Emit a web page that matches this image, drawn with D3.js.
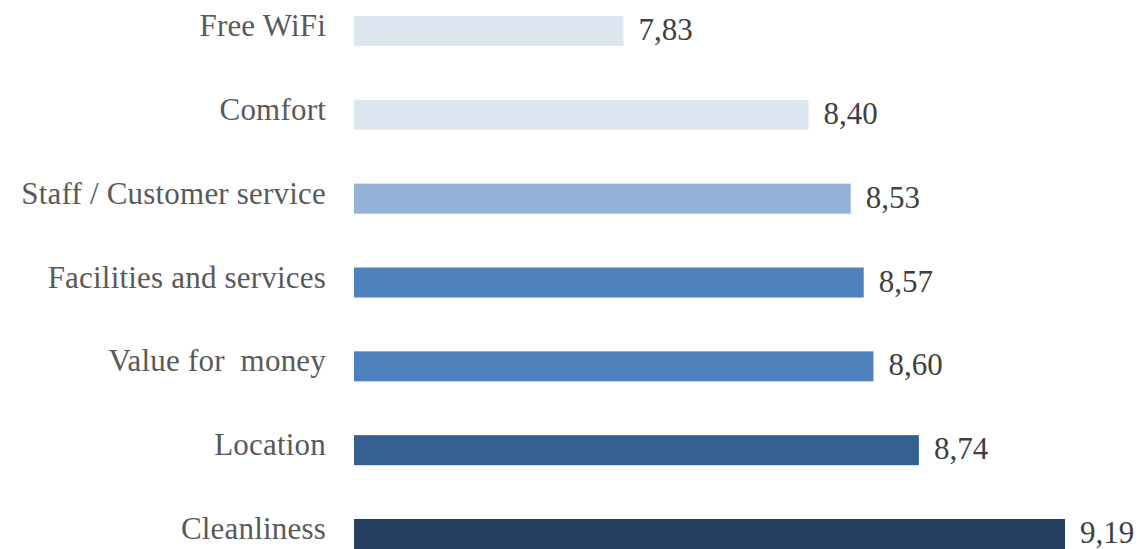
<!DOCTYPE html>
<html>
<head>
<meta charset="utf-8">
<script src="https://cdn.jsdelivr.net/npm/d3@7"></script>
<style>
  html, body { margin: 0; padding: 0; background: #ffffff; }
  svg { display: block; }
  .cat { font-family: "Liberation Serif", "DejaVu Serif", serif; font-size: 31px; letter-spacing: 0.2px; fill: #595959; }
  .val { font-family: "Liberation Serif", "DejaVu Serif", serif; font-size: 31px; fill: #404040; }
</style>
</head>
<body>
<svg id="chart" width="1140" height="549"></svg>
<script>
// Guest review scores by category (top to bottom)
const categories = [
  "Free WiFi",
  "Comfort",
  "Staff / Customer service",
  "Facilities and services",
  "Value for  money",
  "Location",
  "Cleanliness"
];
const scores = [7.83, 8.40, 8.53, 8.57, 8.60, 8.74, 9.19];
const barColors = ["#dce6f1", "#dce6f1", "#95b3d7", "#4f81bd", "#4f81bd", "#376092", "#243f60"];

const width = 1140, height = 549;
const svg = d3.select("#chart");

// Value axis starts at 7, so bar lengths show the difference above 7
const x = d3.scaleLinear().domain([7, d3.max(scores)]).range([354, 1065]);
const y = d3.scaleBand().domain(categories).range([16, 549]).paddingInner(0.642).paddingOuter(0);

const fmt = d3.formatLocale({ decimal: ",", thousands: ".", grouping: [3], currency: ["", " €"] }).format(".2f");

const rows = categories.map((c, i) => ({ cat: c, v: scores[i], color: barColors[i] }));

svg.selectAll("rect.bar")
  .data(rows)
  .join("rect")
  .attr("class", "bar")
  .attr("x", x(7))
  .attr("y", d => y(d.cat))
  .attr("width", d => x(d.v) - x(7))
  .attr("height", y.bandwidth())
  .attr("fill", d => d.color);

// Category names, right-aligned left of the bars
svg.selectAll("text.cat")
  .data(rows)
  .join("text")
  .attr("class", "cat")
  .attr("x", x(7) - 28)
  .attr("y", d => y(d.cat) + y.bandwidth() / 2 + 5)
  .attr("text-anchor", "end")
  .style("white-space", "pre")
  .attr("xml:space", "preserve")
  .text(d => d.cat);

// Score labels after each bar
svg.selectAll("text.val")
  .data(rows)
  .join("text")
  .attr("class", "val")
  .attr("x", d => x(d.v) + 15)
  .attr("y", d => y(d.cat) + y.bandwidth() / 2 + 9)
  .text(d => fmt(d.v));
</script>
</body>
</html>
